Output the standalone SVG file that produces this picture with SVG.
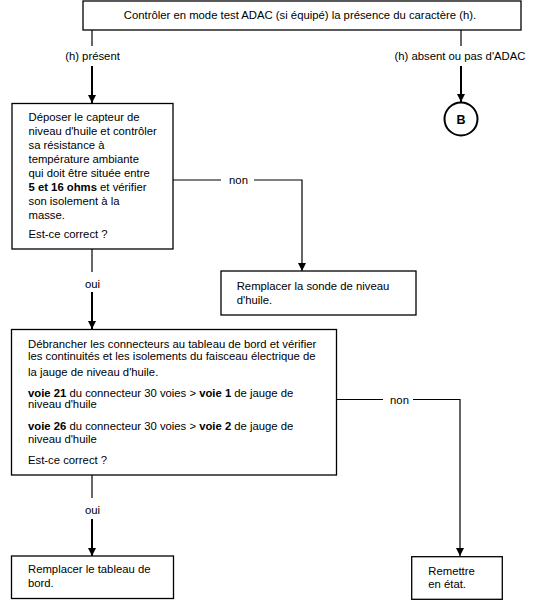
<svg xmlns="http://www.w3.org/2000/svg" width="545" height="608" viewBox="0 0 545 608">
<style>
text{font-family:"Liberation Sans",Arial,sans-serif;font-size:11.3px;fill:#000}
.b{font-weight:bold}
.box{fill:#fff;stroke:#000;stroke-width:1.3}
.ln{fill:none;stroke:#000;stroke-width:1.2}
.th{fill:none;stroke:#000;stroke-width:2}
</style>
<defs>
<marker id="ah" markerUnits="userSpaceOnUse" markerWidth="9" markerHeight="9" refX="8" refY="4.5" orient="auto" viewBox="0 0 9 9">
<path d="M0,0.5 L8,4.5 L0,8.5 z" fill="#000"/>
</marker>
</defs>
<rect width="545" height="608" fill="#fff"/>

<g id="connectors">
<line class="ln" x1="92" y1="30" x2="92" y2="46"/>
<text x="92.5" y="60" text-anchor="middle">(h) présent</text>
<line class="th" x1="92" y1="66" x2="92" y2="103" marker-end="url(#ah)"/>

<line class="ln" x1="461" y1="30" x2="461" y2="46"/>
<text x="460" y="60" text-anchor="middle">(h) absent ou pas d'ADAC</text>
<line class="th" x1="461" y1="66" x2="461" y2="102" marker-end="url(#ah)"/>

<line class="ln" x1="173" y1="180" x2="221" y2="180"/>
<text x="238.5" y="184" text-anchor="middle">non</text>
<polyline class="ln" points="254,180 302,180 302,271" marker-end="url(#ah)"/>

<line class="ln" x1="92" y1="249" x2="92" y2="272"/>
<text x="92.5" y="288" text-anchor="middle">oui</text>
<line class="th" x1="92" y1="292" x2="92" y2="329" marker-end="url(#ah)"/>

<line class="ln" x1="336" y1="399.5" x2="383" y2="399.5"/>
<text x="399.5" y="403.5" text-anchor="middle">non</text>
<polyline class="ln" points="413,399.5 460,399.5 460,556" marker-end="url(#ah)"/>

<line class="ln" x1="92" y1="475" x2="92" y2="498"/>
<text x="92.5" y="514" text-anchor="middle">oui</text>
<line class="th" x1="92" y1="519" x2="92" y2="556" marker-end="url(#ah)"/>
</g>

<g id="n-top">
<rect class="box" x="83" y="1" width="438" height="29"/>
<text x="300" y="19" text-anchor="middle">Contrôler en mode test ADAC (si équipé) la présence du caractère (h).</text>
</g>

<g id="n-B">
<circle cx="461" cy="119" r="16.5" fill="#fff" stroke="#000" stroke-width="2"/>
<text x="461" y="123.5" text-anchor="middle" class="b" style="font-size:12.5px">B</text>
</g>

<g id="n-capteur">
<rect class="box" x="12" y="103.5" width="161" height="145.5"/>
<text x="28.5" y="120.7">Déposer le capteur de</text>
<text x="28.5" y="135">niveau d'huile et contrôler</text>
<text x="28.5" y="149">sa résistance à</text>
<text x="28.5" y="163">température ambiante</text>
<text x="28.5" y="177">qui doit être située entre</text>
<text x="28.5" y="191"><tspan class="b">5 et 16 ohms</tspan> et vérifier</text>
<text x="28.5" y="205">son isolement à la</text>
<text x="28.5" y="219">masse.</text>
<text x="28.5" y="238">Est-ce correct ?</text>
</g>

<g id="n-sonde">
<rect class="box" x="221" y="271" width="195" height="44"/>
<text x="236.7" y="290">Remplacer la sonde de niveau</text>
<text x="236.7" y="303.5">d'huile.</text>
</g>

<g id="n-connecteurs">
<rect class="box" x="11.5" y="329.5" width="325" height="145.5"/>
<text x="28" y="348.3">Débrancher les connecteurs au tableau de bord et vérifier</text>
<text x="28" y="360">les continuités et les isolements du faisceau électrique de</text>
<text x="28" y="375.7">la jauge de niveau d'huile.</text>
<text x="28" y="396.7"><tspan class="b">voie 21</tspan> du connecteur 30 voies &gt; <tspan class="b">voie 1</tspan> de jauge de</text>
<text x="28" y="408.3">niveau d'huile</text>
<text x="28" y="430"><tspan class="b">voie 26</tspan> du connecteur 30 voies &gt; <tspan class="b">voie 2</tspan> de jauge de</text>
<text x="28" y="442.7">niveau d'huile</text>
<text x="28" y="464.3">Est-ce correct ?</text>
</g>

<g id="n-tableau">
<rect class="box" x="11.5" y="556" width="162" height="42.5"/>
<text x="28" y="573.3">Remplacer le tableau de</text>
<text x="28" y="586.7">bord.</text>
</g>

<g id="n-remettre">
<rect class="box" x="411.7" y="556.7" width="90.6" height="42.6"/>
<text x="428.3" y="575">Remettre</text>
<text x="428.3" y="588">en état.</text>
</g>
</svg>
